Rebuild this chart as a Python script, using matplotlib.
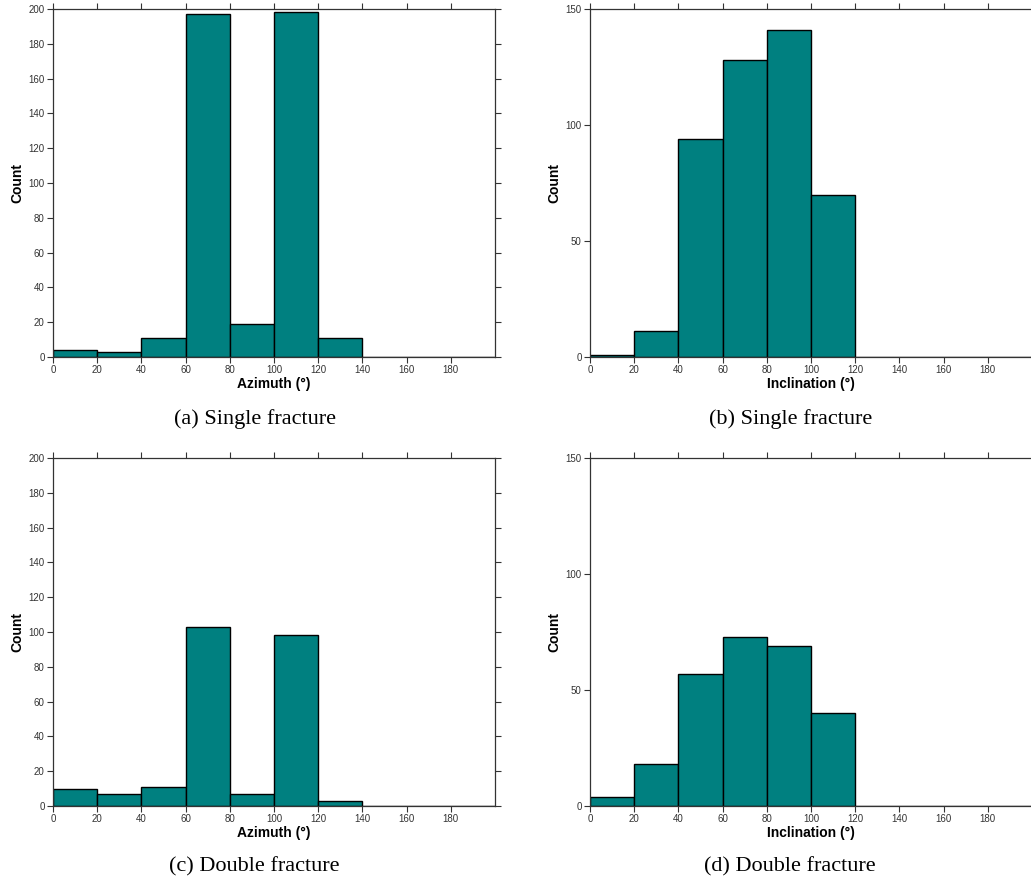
import numpy as np
import matplotlib
matplotlib.use('Agg')
import matplotlib.pyplot as plt

# Histogram counts per 20-degree bin (0-200)
bin_edges = np.arange(0, 201, 20)
azimuth_single = [4, 3, 11, 197, 19, 198, 11, 0, 0, 0]
incl_single = [1, 11, 94, 128, 141, 70, 0, 0, 0, 0]
azimuth_double = [10, 7, 11, 103, 7, 98, 3, 0, 0, 0]
incl_double = [4, 18, 57, 73, 69, 40, 0, 0, 0, 0]

captions = ['(a) Single fracture', '(b) Single fracture',
            '(c) Double fracture', '(d) Double fracture']

plt.rcParams['font.family'] = ['Liberation Sans', 'DejaVu Sans']

fig = plt.figure(figsize=(10.31, 8.84), dpi=100)

W, H = 1031, 884


def axes_px(left, top, right, bottom):
    return fig.add_axes([left / W, 1 - bottom / H, (right - left) / W, (bottom - top) / H])


def plot_hist(ax, counts, ymax, ystep, xlabel):
    ax.bar(bin_edges[:-1], counts, width=20, align='edge',
           color='#008080', edgecolor='black', linewidth=1.0)
    ax.set_xlim(0, 200)
    ax.set_ylim(0, ymax)
    ax.set_xticks(np.arange(0, 200, 20))
    ax.set_yticks(np.arange(0, ymax + 1, ystep))
    ax.tick_params(direction='out', top=True, right=True, length=4,
                   width=0.8, color='#333333', labelsize=7,
                   labelcolor='#333333', pad=2)
    for s in ax.spines.values():
        s.set_color('#333333')
        s.set_linewidth(0.9)
    ax.set_xlabel(xlabel, fontsize=10, fontweight='bold', labelpad=1)
    ax.set_ylabel('Count', fontsize=10, fontweight='bold', labelpad=3)


ax_a = axes_px(53, 9, 495, 357)
ax_b = axes_px(590, 9, 1032, 357)
ax_c = axes_px(53, 458, 495, 806)
ax_d = axes_px(590, 458, 1032, 806)

plot_hist(ax_a, azimuth_single, 200, 20, 'Azimuth (°)')
plot_hist(ax_b, incl_single, 150, 50, 'Inclination (°)')
plot_hist(ax_c, azimuth_double, 200, 20, 'Azimuth (°)')
plot_hist(ax_d, incl_double, 150, 50, 'Inclination (°)')

cap_pos = [(255, 419), (791, 419), (254, 867), (790, 867)]
for text, (x, y) in zip(captions, cap_pos):
    fig.text(x / W, 1 - y / H, text, ha='center', va='center',
             fontsize=16, family='Liberation Serif')

fig.savefig('out.png', dpi=100)
